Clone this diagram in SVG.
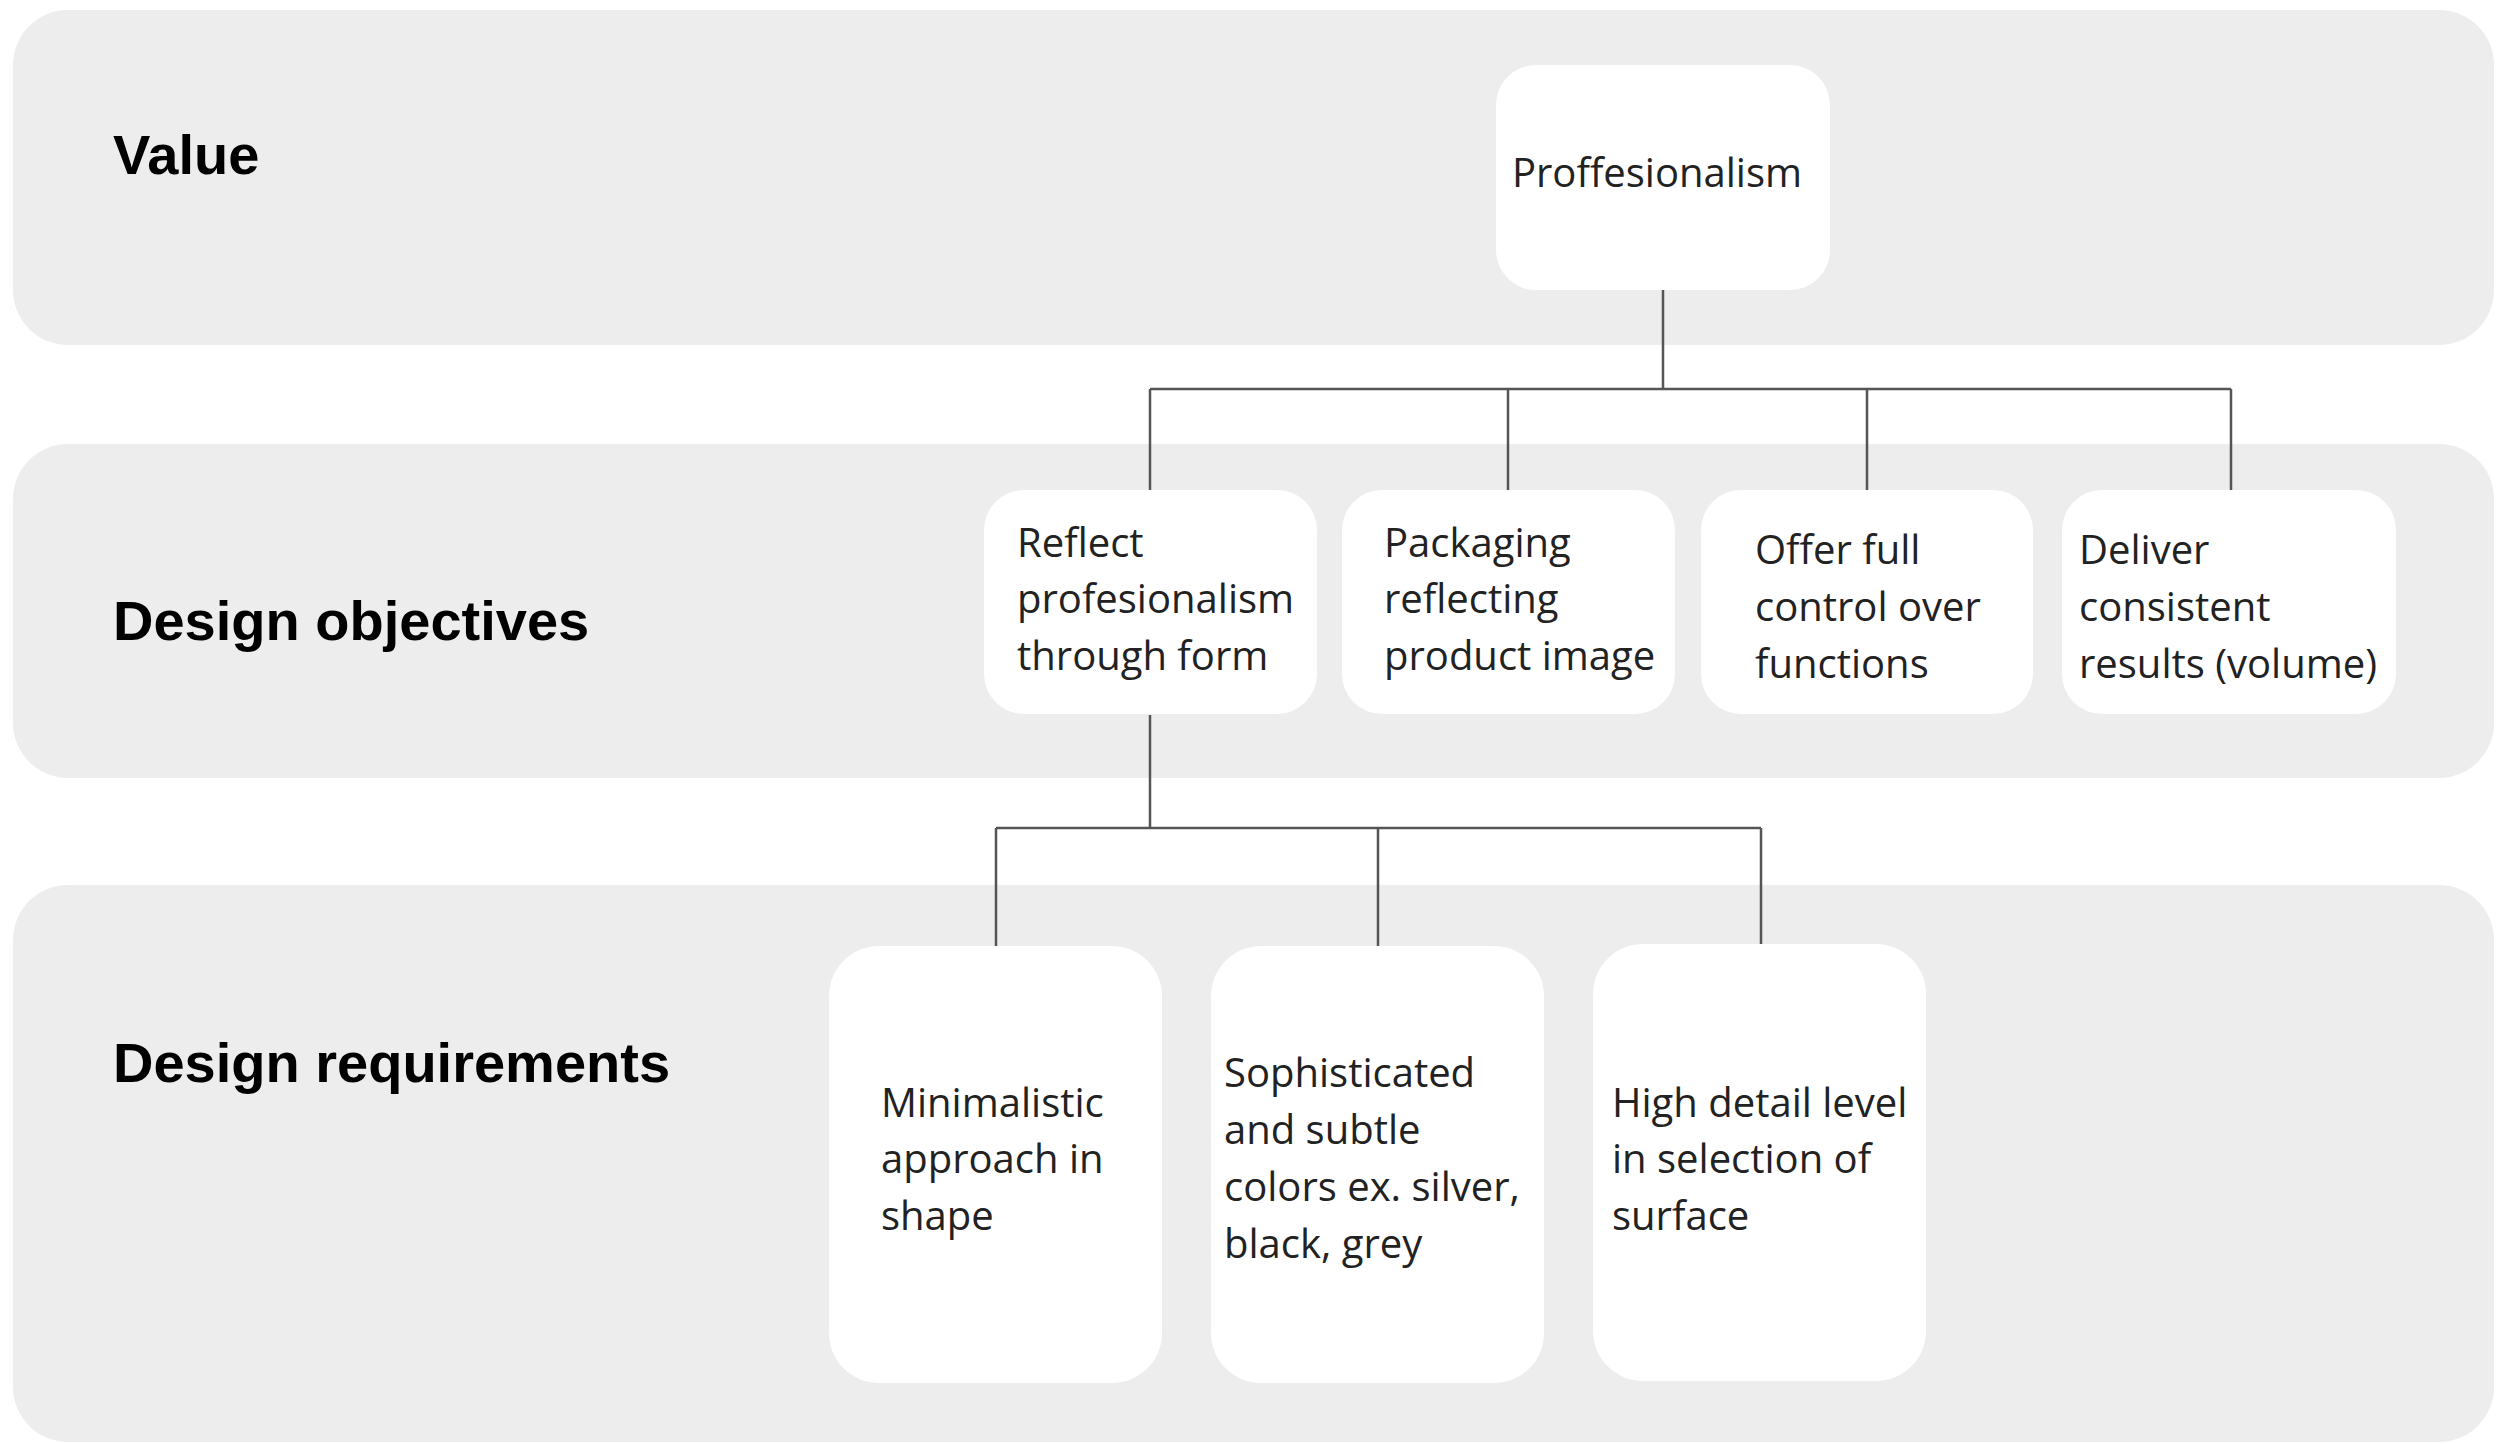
<svg xmlns="http://www.w3.org/2000/svg" width="2496" height="1444" viewBox="0 0 2496 1444">
<style>
.band{fill:#ededed}
.box{fill:#ffffff}
.lbl{font-family:"Liberation Sans",Arial,sans-serif;font-weight:bold;font-size:56px;fill:#000}
.t{font-family:"Open Sans","Noto Sans",sans-serif;font-size:40px;fill:#222}
.c{fill:none;stroke:#555;stroke-width:2.5}
</style>
<rect width="2496" height="1444" fill="#ffffff"/>
<g id="band-value">
<rect class="band" x="13" y="10" width="2481" height="335" rx="55"/>
<text class="lbl" x="113" y="174">Value</text>
</g>
<g id="band-objectives">
<rect class="band" x="13" y="444" width="2481" height="334" rx="55"/>
<text class="lbl" x="113" y="640">Design objectives</text>
</g>
<g id="band-requirements">
<rect class="band" x="13" y="885" width="2481" height="557" rx="55"/>
<text class="lbl" x="113" y="1082">Design requirements</text>
</g>
<g id="connectors">
<path class="c" d="M1663 290V389M1150 389H2231M1150 389V490M1508 389V490M1867 389V490M2231 389V490"/>
<path class="c" d="M1150 715V828M996 828H1761M996 828V947M1378 828V947M1761 828V947"/>
</g>
<g id="node-proffesionalism">
<rect class="box" x="1496" y="65" width="334" height="225" rx="40"/>
<text class="t" x="1657" y="187" text-anchor="middle">Proffesionalism</text>
</g>
<g id="node-obj1">
<rect class="box" x="984" y="490" width="333" height="224" rx="40"/>
<text class="t" x="1017"><tspan x="1017" y="557">Reflect</tspan><tspan x="1017" y="613">profesionalism</tspan><tspan x="1017" y="670">through form</tspan></text>
</g>
<g id="node-obj2">
<rect class="box" x="1342" y="490" width="333" height="224" rx="40"/>
<text class="t"><tspan x="1384" y="557">Packaging</tspan><tspan x="1384" y="613">reflecting</tspan><tspan x="1384" y="670">product image</tspan></text>
</g>
<g id="node-obj3">
<rect class="box" x="1701" y="490" width="332" height="224" rx="40"/>
<text class="t"><tspan x="1755" y="564">Offer full</tspan><tspan x="1755" y="621">control over</tspan><tspan x="1755" y="678">functions</tspan></text>
</g>
<g id="node-obj4">
<rect class="box" x="2062" y="490" width="334" height="224" rx="40"/>
<text class="t"><tspan x="2079" y="564">Deliver</tspan><tspan x="2079" y="621">consistent</tspan><tspan x="2079" y="678">results (volume)</tspan></text>
</g>
<g id="node-req1">
<rect class="box" x="829" y="946" width="333" height="437" rx="50"/>
<text class="t"><tspan x="881" y="1117">Minimalistic</tspan><tspan x="881" y="1173">approach in</tspan><tspan x="881" y="1230">shape</tspan></text>
</g>
<g id="node-req2">
<rect class="box" x="1211" y="946" width="333" height="437" rx="50"/>
<text class="t"><tspan x="1224" y="1087">Sophisticated</tspan><tspan x="1224" y="1144">and subtle</tspan><tspan x="1224" y="1201">colors ex. silver,</tspan><tspan x="1224" y="1258">black, grey</tspan></text>
</g>
<g id="node-req3">
<rect class="box" x="1593" y="944" width="333" height="437" rx="50"/>
<text class="t"><tspan x="1612" y="1117">High detail level</tspan><tspan x="1612" y="1173">in selection of</tspan><tspan x="1612" y="1230">surface</tspan></text>
</g>
</svg>
